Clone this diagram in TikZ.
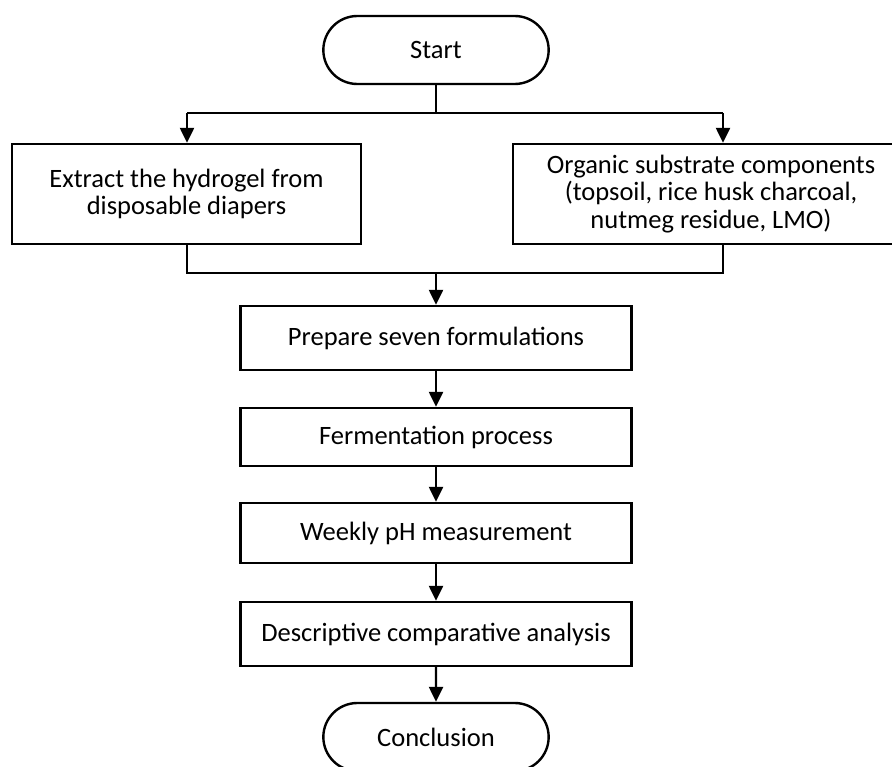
\documentclass[tikz,border=0pt]{standalone}
\usepackage{fontspec}
\setmainfont{Carlito}
\usetikzlibrary{shapes.misc,arrows.meta}

\begin{document}
\begin{tikzpicture}[x=1pt,y=-1pt,
  every node/.style={font=\fontsize{26.5}{27.5}\selectfont},
  terminal/.style={draw,line width=2.4pt,rounded rectangle,minimum width=232pt,minimum height=68pt},
  stepbox/.style={draw,line width=2.4pt,align=center,inner sep=0pt},
  line/.style={line width=2.4pt},
  arrow/.style={line width=2.4pt,-{Triangle[length=15pt,width=14pt]}}]

  \useasboundingbox (0,0) rectangle (892,767);

  % start
  \node[terminal] (start) at (436,50) {Start};

  % two inputs
  \node[stepbox,minimum width=349pt,minimum height=100pt] (extract) at (186.5,194)
    {Extract the hydrogel from\\disposable diapers};
  \node[stepbox,minimum width=396pt,minimum height=100pt] (organic) at (711,194)
    {Organic substrate components\\(topsoil, rice husk charcoal,\\nutmeg residue, LMO)};

  \coordinate (splitL) at (187,113);
  \coordinate (splitR) at (723,113);
  \draw[line] (start.south) -- (start.south |- splitL);
  \draw[line] (splitL) -- (splitR);
  \draw[arrow] (splitL) -- (splitL |- extract.north);
  \draw[arrow] (splitR) -- (splitR |- organic.north);

  % process steps
  \node[stepbox,minimum width=391pt,minimum height=64pt] (prepare) at (436,338) {Prepare seven formulations};
  \node[stepbox,minimum width=391pt,minimum height=58pt] (ferment) at (436,437) {Fermentation process};
  \node[stepbox,minimum width=391pt,minimum height=60pt] (weekly) at (436,533) {Weekly pH measurement};
  \node[stepbox,minimum width=391pt,minimum height=64pt] (analysis) at (436,634) {Descriptive comparative analysis};

  % join
  \coordinate (joinL) at (187,273);
  \coordinate (joinR) at (723,273);
  \draw[line] (joinL |- extract.south) -- (joinL) -- (joinR) -- (joinR |- organic.south);
  \draw[arrow] (joinL -| prepare.north) -- (prepare.north);

  % end
  \node[terminal] (concl) at (436,737) {Conclusion};

  \draw[arrow] (prepare) -- (ferment);
  \draw[arrow] (ferment) -- (weekly);
  \draw[arrow] (weekly) -- (analysis);
  \draw[arrow] (analysis) -- (concl);

\end{tikzpicture}
\end{document}
